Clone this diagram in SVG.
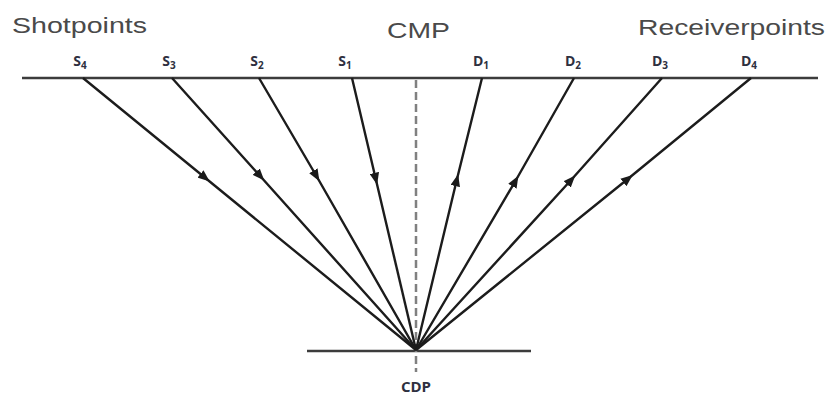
<svg xmlns="http://www.w3.org/2000/svg" width="829" height="398" viewBox="0 0 829 398">
<defs>
<marker id="ah" viewBox="0 0 10 8" refX="6" refY="4" markerWidth="12" markerHeight="10" orient="auto" markerUnits="userSpaceOnUse">
<path d="M0,0 L10,4 L0,8 Z" fill="#1a1a1a"/>
</marker>
<style>
.title{font-family:"Liberation Sans",Arial,sans-serif;font-size:22px;fill:#4a4a4a}
.pt{font-family:"Open Sans","Liberation Sans",sans-serif;font-weight:700;font-size:14px;fill:#2e3040}
.sub{font-size:10px}
.ray{fill:none;stroke:#1c1c1c;stroke-width:2.4;marker-mid:url(#ah)}
.base{stroke:#3c3c3c;stroke-width:2.5}
</style>
</defs>
<rect width="829" height="398" fill="#ffffff"/>
<g id="labels">
<text class="title" x="12" y="33" textLength="135" lengthAdjust="spacingAndGlyphs">Shotpoints</text>
<text class="title" x="387" y="38" textLength="63" lengthAdjust="spacingAndGlyphs">CMP</text>
<text class="title" x="638" y="35" textLength="187" lengthAdjust="spacingAndGlyphs">Receiverpoints</text>
</g>
<g id="surface"><line class="base" x1="22" y1="78" x2="818" y2="78"/></g>
<g id="reflector"><line class="base" x1="307" y1="351" x2="531" y2="351"/></g>
<g id="cmp-axis"><line x1="416" y1="80" x2="416" y2="372" stroke="#808080" stroke-width="2.5" stroke-dasharray="8,4"/></g>
<g id="S4"><text class="pt" x="80" y="66" text-anchor="middle">S<tspan class="sub" dy="3">4</tspan></text></g>
<g id="S3"><text class="pt" x="169" y="66" text-anchor="middle">S<tspan class="sub" dy="3">3</tspan></text></g>
<g id="S2"><text class="pt" x="257" y="66" text-anchor="middle">S<tspan class="sub" dy="3">2</tspan></text></g>
<g id="S1"><text class="pt" x="345" y="66" text-anchor="middle">S<tspan class="sub" dy="3">1</tspan></text></g>
<g id="D1"><text class="pt" x="481" y="66" text-anchor="middle">D<tspan class="sub" dy="3">1</tspan></text></g>
<g id="D2"><text class="pt" x="573" y="66" text-anchor="middle">D<tspan class="sub" dy="3">2</tspan></text></g>
<g id="D3"><text class="pt" x="660" y="66" text-anchor="middle">D<tspan class="sub" dy="3">3</tspan></text></g>
<g id="D4"><text class="pt" x="749" y="66" text-anchor="middle">D<tspan class="sub" dy="3">4</tspan></text></g>
<g id="CDP"><text class="pt" x="416" y="392" text-anchor="middle" style="font-size:15px">CDP</text></g>
<g id="connectors">
<path class="ray" d="M83,78 L206,178.5 L416,350"/>
<path class="ray" d="M172,78 L261,177 L416,350"/>
<path class="ray" d="M259,78 L317,177 L416,350"/>
<path class="ray" d="M352,78 L376,180 L416,350"/>
<path class="ray" d="M416,350 L457,179 L482,78"/>
<path class="ray" d="M416,350 L516,180 L574,78"/>
<path class="ray" d="M416,350 L572,179 L662,78"/>
<path class="ray" d="M416,350 L629,178 L751,78"/>
</g>
</svg>
